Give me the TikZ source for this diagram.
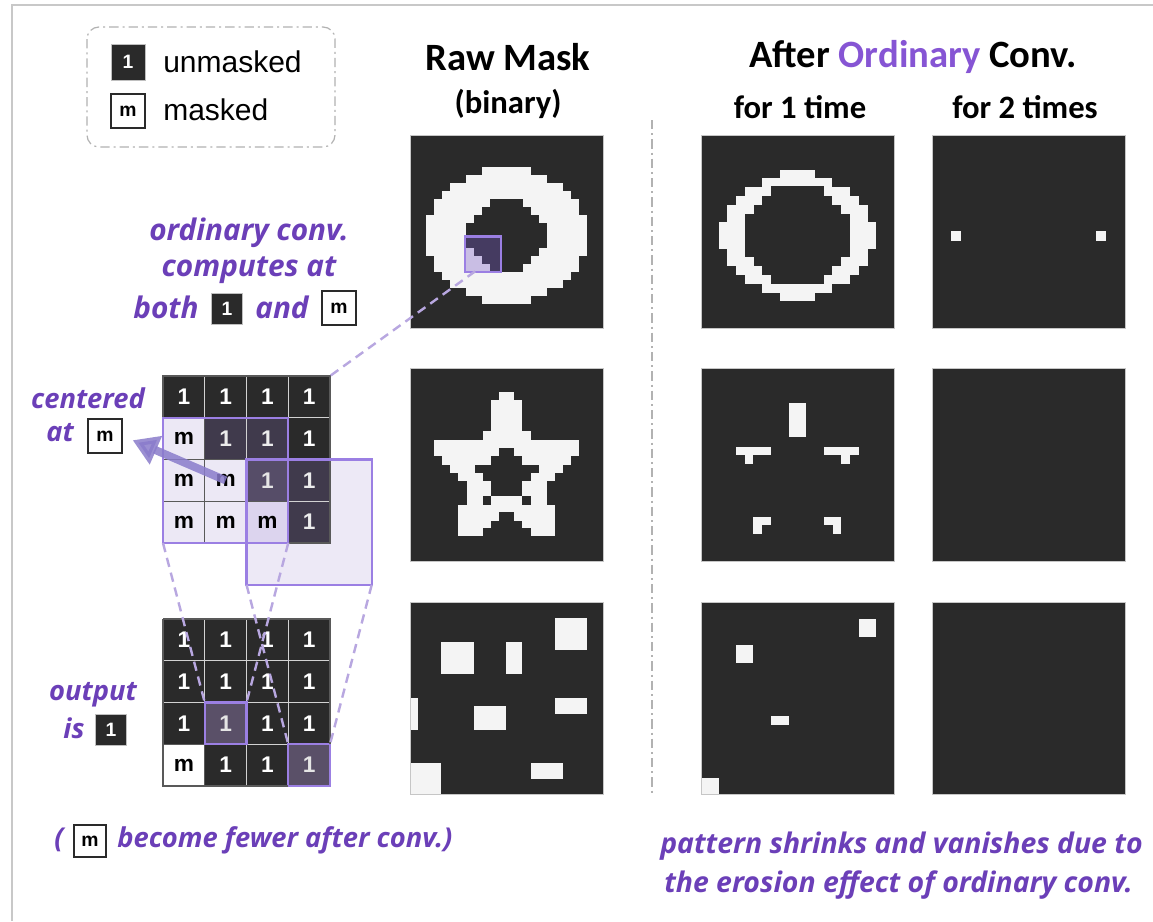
\documentclass[tikz,border=0pt]{standalone}
\usepackage{fontspec}
\setmainfont{Liberation Sans}
\newfontfamily\calfont{Carlito}
\newfontfamily\osfont{Open Sans}
\usetikzlibrary{arrows.meta}
\definecolor{pixbg}{HTML}{2A2A2A}
\definecolor{pixfg}{HTML}{F4F4F4}
\definecolor{ptext}{HTML}{6B3FB8}
\definecolor{ptitle}{HTML}{8655D4}
\definecolor{kline}{HTML}{9B7FE3}
\definecolor{kfill}{HTML}{7A5CC8}
\definecolor{dashc}{HTML}{B8A7E0}
\definecolor{framec}{HTML}{C8C8C8}
\definecolor{arrowc}{HTML}{8A7CCB}
\definecolor{tintA}{HTML}{403A4C}
\definecolor{tintB}{HTML}{564D68}
\definecolor{mtintA}{HTML}{ECE8F5}
\definecolor{mtintB}{HTML}{DCD4EE}
\definecolor{outcell}{HTML}{5A5068}
\definecolor{boxfillc}{HTML}{EDE9F6}
\tikzset{
 panelbox/.style={draw=gray!45, line width=0.5pt},
 pix/.style={fill=pixfg},
 hole/.style={fill=pixbg},
 ttl/.style={font=\calfont\bfseries\fontsize{29}{30}\selectfont, inner sep=0pt},
 subttl/.style={font=\calfont\bfseries\fontsize{24.5}{26}\selectfont, inner sep=0pt},
 ptxt/.style={text=ptext, font=\osfont\bfseries\itshape\fontsize{20.5}{22}\selectfont, inner sep=0pt},
 ptxtL/.style={text=ptext, font=\osfont\bfseries\itshape\fontsize{22.3}{24}\selectfont, inner sep=0pt},
 ptxtB/.style={text=ptext, font=\osfont\bfseries\itshape\fontsize{21.3}{23}\selectfont, inner sep=0pt},
 legtxt/.style={font=\fontsize{22.5}{24}\selectfont, inner sep=0pt, anchor=west},
 onebox/.style={fill=pixbg, draw=gray!50, line width=0.5pt, text=white, font=\bfseries\fontsize{14.5}{15}\selectfont, minimum width=#1, minimum height=#1, inner sep=0pt},
 onebox/.default=23pt,
 mbox/.style={fill=white, draw=pixbg, line width=1.3pt, text=black, font=\bfseries\fontsize{14.5}{15}\selectfont, minimum width=#1, minimum height=#1, inner sep=0pt},
 mbox/.default=25pt,
 dcell/.style={minimum size=31.3125pt, inner sep=0pt, outer sep=0pt, fill=pixbg, draw=gray!35, line width=0.6pt, text=white, font=\bfseries\fontsize{17}{17}\selectfont},
 mcell/.style={dcell, fill=white, draw=gray!70!black, line width=0.8pt, text=black},
 kbox/.style={draw=kline, line width=1.8pt},
 dashl/.style={draw=dashc, line width=1.8pt, dash pattern=on 7pt off 4.5pt},
 dashdot/.style={draw=gray!60, line width=0.9pt, dash pattern=on 7pt off 3pt on 1.5pt off 3pt},
 bigarrow/.style={draw=arrowc, line width=6pt, -{Triangle[length=19pt,width=22pt]}, opacity=0.85},
}
\begin{document}
\begin{tikzpicture}[x=0.75pt,y=-0.75pt]
\useasboundingbox (0,0) rectangle (1153,921);
\fill[white] (0,0) rectangle (1153,921);
% frame
\draw[framec, line width=1.5pt] (12,921) -- (12,5) -- (1153,5);
% legend
\draw[dashdot, rounded corners=9pt] (87,27) rectangle (335,147);
\node[onebox=25.5pt, minimum height=27pt] (leg1) at (128,62) {1};
\node[legtxt] (leg1t) at (163,62) {unmasked};
\node[mbox=25.5pt] (legm) at (128,111) {m};
\node[legtxt] (legmt) at (163,110) {masked};
% titles
\node[ttl] (t-raw) at (508,57) {Raw Mask};
\node[subttl] (t-bin) at (508,104) {(binary)};
\node[ttl] (t-after) at (913,57) {After \textcolor{ptitle}{Ordinary} Conv.};
\node[subttl] (t-one) at (800,107) {for 1 time};
\node[subttl] (t-two) at (1025,107) {for 2 times};
% separator
\draw[dashdot, line width=1.2pt] (652,120) -- (652,795);

% ===== Raw ring =====
\begin{scope}[shift={(410,135)}, x=6.03125pt, y=-6.03125pt]
 \fill[pixbg] (0,0) rectangle (24,24);
 \foreach \r/\a/\b in {4/9/14,5/7/16,6/5/18,7/4/19,8/3/20,9/3/20,10/2/21,11/2/21,12/2/21,13/2/21,14/2/21,15/3/20,16/3/20,17/4/19,18/5/18,19/7/16,20/9/14}
   \fill[pix] (\a,\r) rectangle (\b+1,\r+1);
 \foreach \r/\a/\b in {8/10/13,9/9/14,10/8/15,11/7/16,12/7/16,13/7/16,14/8/15,15/9/14,16/10/13}
   \fill[hole] (\a,\r) rectangle (\b+1,\r+1);
 \fill[kfill, fill opacity=0.35] (6.85,12.65) rectangle (11.3,17.05);
 \draw[kbox, line width=2pt] (6.85,12.65) rectangle (11.3,17.05);
 \coordinate (ringpt) at (8.1,16.95);
 \draw[panelbox] (0,0) rectangle (24,24);
\end{scope}
% ===== 1-time ring =====
\begin{scope}[shift={(701,135)}, x=0.25pt, y=-0.25pt]
 \fill[pixbg] (0,0) rectangle (580,580);
 \foreach \ya/\yb/\xa/\xb in {104/129/236/341, 129/156/184/394, 156/184/131/446, 184/209/104/473, 209/261/78/500, 261/341/53/526, 341/394/78/500, 394/421/104/473, 421/446/131/446, 446/473/184/394, 473/499/236/341}
   \fill[pix] (\xa,\ya) rectangle (\xb,\yb);
 \foreach \ya/\yb/\xa/\xb in {154/184/210/368, 184/209/184/394, 209/236/158/420, 236/366/131/446, 366/394/158/420, 394/421/184/394, 421/446/210/368}
   \fill[hole] (\xa,\ya) rectangle (\xb,\yb);
 \draw[panelbox] (0,0) rectangle (580,580);
\end{scope}
% ===== 2-times ring =====
\begin{scope}[shift={(932,135)}, x=0.25pt, y=-0.25pt]
 \fill[pixbg] (0,0) rectangle (580,580);
 \fill[pix] (57,288) rectangle (87,318);
 \fill[pix] (492,288) rectangle (522,318);
 \draw[panelbox] (0,0) rectangle (580,580);
\end{scope}
% ===== Raw star =====
\begin{scope}[shift={(410,368)}, x=0.25pt, y=-0.25pt]
 \fill[pixbg] (0,0) rectangle (580,580);
 \foreach \ya/\yb/\xa/\xb in {72/95/268/313, 95/190/243/337, 190/215/218/362, 215/265/73/507, 265/290/97/482, 290/315/120/458, 315/340/145/434, 340/410/170/410, 410/480/145/434, 480/503/145/218, 480/503/362/434}
   \fill[pix] (\xa,\ya) rectangle (\xb,\yb);
 \foreach \ya/\yb/\xa/\xb in {240/265/268/313, 265/290/243/337, 290/315/195/386, 315/340/218/362, 340/385/243/337, 385/410/218/243, 385/410/337/362, 433/458/268/313, 458/480/243/337}
   \fill[hole] (\xa,\ya) rectangle (\xb,\yb);
 \draw[panelbox] (0,0) rectangle (580,580);
\end{scope}
% ===== 1-time star =====
\begin{scope}[shift={(701,368)}, x=0.25pt, y=-0.25pt]
 \fill[pixbg] (0,0) rectangle (580,580);
 \foreach \ya/\yb/\xa/\xb in {105/208/263/316, 237/261/105/209, 261/287/131/157, 237/261/369/473, 261/287/421/447, 447/472/157/209, 472/499/157/183, 447/472/369/421, 472/499/395/421}
   \fill[pix] (\xa,\ya) rectangle (\xb,\yb);
 \draw[panelbox] (0,0) rectangle (580,580);
\end{scope}
% ===== 2-times star =====
\begin{scope}[shift={(932,368)}, x=0.25pt, y=-0.25pt]
 \fill[pixbg] (0,0) rectangle (580,580);
 \draw[panelbox] (0,0) rectangle (580,580);
\end{scope}
% ===== Raw squares =====
\begin{scope}[shift={(410,602)}, x=0.25pt, y=-0.25pt]
 \fill[pixbg] (0,0) rectangle (580,578);
 \foreach \xa/\xb/\ya/\yb in {94/192/120/215, 288/337/120/215, 435/531/47/143, 0/23/288/385, 192/288/312/385, 435/531/288/336, 0/94/482/578, 362/459/482/530}
   \fill[pix] (\xa,\ya) rectangle (\xb,\yb);
 \draw[panelbox] (0,0) rectangle (580,578);
\end{scope}
% ===== 1-time squares =====
\begin{scope}[shift={(701,602)}, x=0.25pt, y=-0.25pt]
 \fill[pixbg] (0,0) rectangle (580,578);
 \foreach \xa/\xb/\ya/\yb in {105/157/130/182, 473/526/52/105, 210/263/341/368, 0/53/527/578}
   \fill[pix] (\xa,\ya) rectangle (\xb,\yb);
 \draw[panelbox] (0,0) rectangle (580,578);
\end{scope}
% ===== 2-times squares =====
\begin{scope}[shift={(932,602)}, x=0.25pt, y=-0.25pt]
 \fill[pixbg] (0,0) rectangle (580,578);
 \draw[panelbox] (0,0) rectangle (580,578);
\end{scope}

% ===== upper grid =====
\begin{scope}[shift={(163,376)}, x=31.3125pt, y=-31.3125pt]
 \fill[boxfillc] (2,2) rectangle (5,5);
 \foreach \c/\r in {0/0,1/0,2/0,3/0,3/1} \node[dcell] (u-\c-\r) at (\c+.5,\r+.5) {1};
 \foreach \c/\r in {1/1,2/1,3/2,3/3} \node[dcell, fill=tintA, text=white!85!gray] (u-\c-\r) at (\c+.5,\r+.5) {1};
 \node[dcell, fill=tintB, text=white!80!gray] (u-2-2) at (2.5,2.5) {1};
 \foreach \c/\r in {0/1,0/2,1/2,0/3,1/3} \node[mcell, fill=mtintA] (u-\c-\r) at (\c+.5,\r+.5) {m};
 \node[mcell, fill=mtintB] (u-2-3) at (2.5,3.5) {m};
 \draw[gray!70!black, line width=0.9pt] (0,0) rectangle (4,4);
 \draw[kbox] (0,1) rectangle (3,4);
 \draw[kbox] (2,2) rectangle (5,5);
 \coordinate (k1a) at (0,4);
 \coordinate (k1b) at (3,4);
 \coordinate (k2a) at (2,5);
 \coordinate (k2b) at (5,5);
\end{scope}
% ===== lower grid =====
\begin{scope}[shift={(163,619)}, x=31.3125pt, y=-31.3125pt]
 \foreach \c/\r in {0/0,1/0,2/0,3/0,0/1,1/1,2/1,3/1,0/2,2/2,3/2,1/3,2/3} \node[dcell] (l-\c-\r) at (\c+.5,\r+.5) {1};
 \node[mcell] (l-0-3) at (0.5,3.5) {m};
 \node[dcell, fill=outcell, draw=kline, line width=1.8pt, text=white!80!gray] (l-1-2) at (1.5,2.5) {1};
 \node[dcell, fill=outcell, draw=kline, line width=1.8pt, text=white!80!gray] (l-3-3) at (3.5,3.5) {1};
 \draw[gray!70!black, line width=0.9pt] (0,0) -- (4,0) -- (4,3) (3,4) -- (0,4) -- (0,0);
\end{scope}

% connectors
\draw[dashl] (ringpt) -- (u-3-0.north east);
\draw[dashl] (k1a) -- (l-1-2.north west);
\draw[dashl] (k1b) -- (l-1-2.north east);
\draw[dashl] (k2a) -- (l-3-3.north west);
\draw[dashl] (k2b) -- (l-3-3.north east);

% left annotations
\node[ptxtL] (oc1) at (249,233) {ordinary conv.};
\node[ptxtL] (oc2) at (249,270) {computes at};
\node[ptxtL] (oc3) at (166,307) {both};
\node[onebox] (ocb1) at (227,309) {1};
\node[ptxtL] (oc4) at (282,307) {and};
\node[mbox=26pt] (ocbm) at (339,308) {m};

\node[ptxt] (ce1) at (88,398) {centered};
\node[ptxt] (ce2) at (60,433) {at};
\node[mbox=25.5pt] (cebm) at (105,436) {m};
\draw[bigarrow, shorten >=8pt] (u-1-2.center) -- (cebm.east);

\node[ptxt] (op1) at (93,695) {output};
\node[ptxt] (op2) at (74,728) {is};
\node[onebox] (opb1) at (111,730) {1};

\node[ptxt] (bf0) at (59,840) {(};
\node[mbox=24pt] (bfm) at (90,841) {m};
\node[ptxt, anchor=west] (bf1) at (117,840) {become fewer after conv.)};

\node[ptxtB, anchor=west] (ps1) at (660,846) {pattern shrinks and vanishes due to};
\node[ptxtB, anchor=west] (ps2) at (664,885) {the erosion effect of ordinary conv.};
\end{tikzpicture}
\end{document}
